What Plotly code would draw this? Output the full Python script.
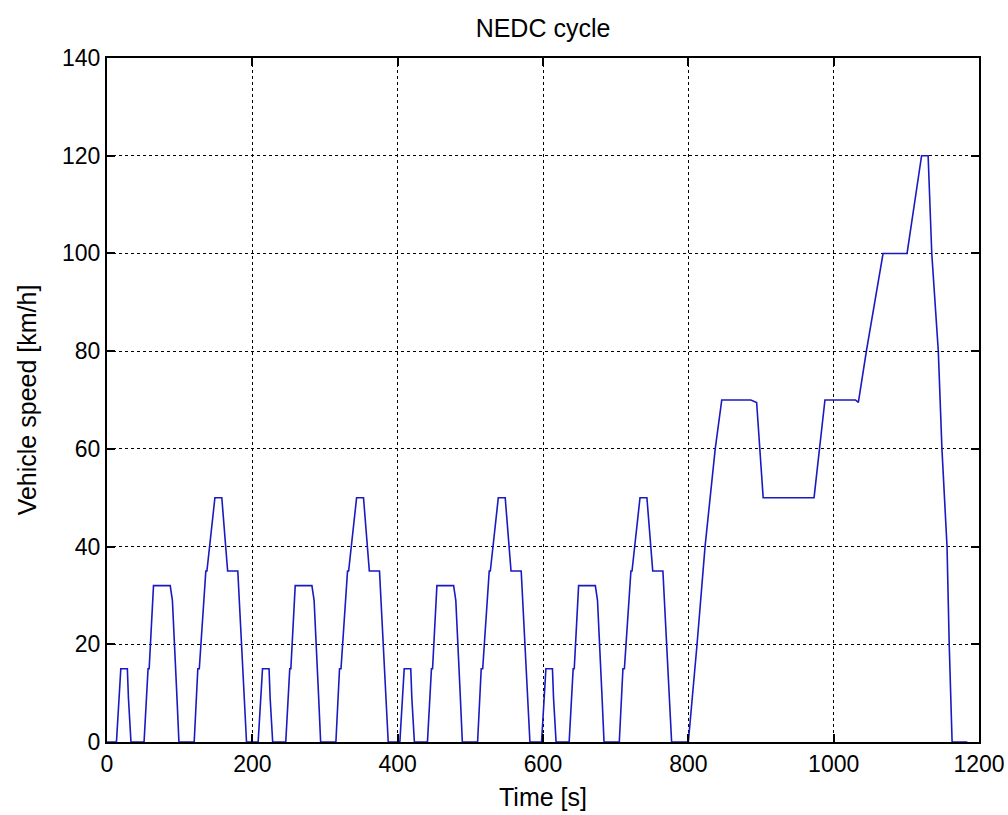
import plotly.graph_objects as go

# ECE-15 urban elementary cycle: breakpoints [s] relative to cycle start, speed [km/h]
ece_time = [0, 13, 19, 28, 29.5, 33, 51, 56.5, 58, 64, 87, 90, 96, 99,
            120, 125, 127, 136, 137.5, 148.5, 158, 166, 180, 189, 192, 195]
ece_speed = [0, 0, 15, 15, 9, 0, 0, 15, 15, 32, 32, 29, 10, 0,
             0, 15, 15, 35, 35, 50, 50, 35, 35, 10, 0, 0]
ece_starts = [0, 195, 390, 585]

# EUDC extra-urban part, absolute time [s] and speed [km/h]
eudc_time = [800, 812, 823, 837, 846, 886, 894, 903, 973, 988, 1030, 1034, 1045, 1068,
             1101, 1121, 1130, 1135, 1144, 1149, 1156, 1159, 1163, 1184]
eudc_speed = [0, 20, 40, 60, 70, 70, 69.5, 50, 50, 70, 70, 69.5, 80, 100,
              100, 120, 120, 100, 80, 60, 40, 20, 0, 0]

time = []
speed = []
for s in ece_starts:
    time += [s + t for t in ece_time]
    speed += ece_speed
time += eudc_time
speed += eudc_speed

x_ticks = [0, 200, 400, 600, 800, 1000, 1200]
y_ticks = [0, 20, 40, 60, 80, 100, 120, 140]

family = "Liberation Sans, Arial, sans-serif"
tick_font = dict(family=family, size=23, color="black")
label_font = dict(family=family, size=25, color="black")

fig = go.Figure()
fig.add_trace(go.Scatter(x=time, y=speed, mode="lines",
                         line=dict(color="#1a1ac0", width=1.6), showlegend=False))

axis_common = dict(showline=True, linecolor="black", linewidth=2, mirror="allticks",
                   ticks="inside", ticklen=8, tickcolor="black", tickwidth=2,
                   showgrid=True, gridcolor="black", griddash="dot", gridwidth=1,
                   zeroline=False, tickfont=tick_font, automargin=False)

fig.update_xaxes(range=[0, 1200], tickvals=x_ticks,
                 title=dict(text="Time [s]", font=label_font, standoff=13),
                 **axis_common)
fig.update_yaxes(range=[0, 140], tickvals=y_ticks,
                 title=dict(text="Vehicle speed [km/h]", font=label_font, standoff=18),
                 **axis_common)

fig.update_layout(
    width=1008, height=815,
    margin=dict(l=107, r=29, t=58, b=73),
    paper_bgcolor="white", plot_bgcolor="white",
    title=dict(text="NEDC cycle", font=label_font, x=0.5, xanchor="center", xref="paper",
               y=1 - 28 / 815, yanchor="middle"),
    font=tick_font,
)

fig.write_html("out.html")
